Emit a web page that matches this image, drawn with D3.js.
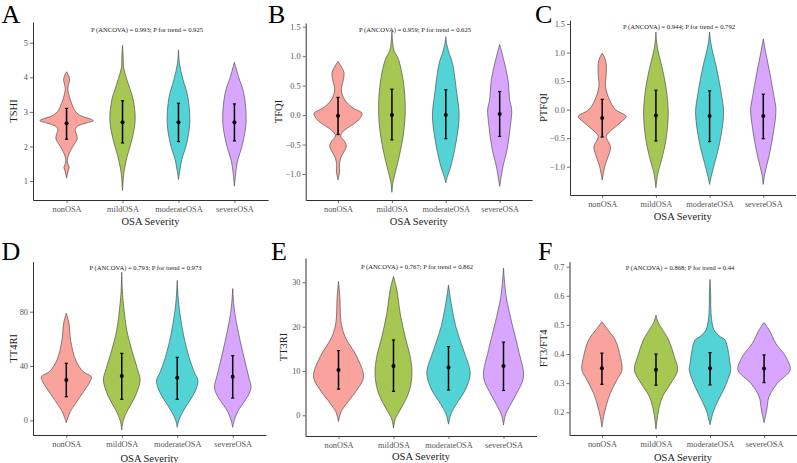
<!DOCTYPE html>
<html>
<head>
<meta charset="utf-8">
<script src="https://cdn.jsdelivr.net/npm/d3@7"></script>
<style>
  html, body { margin: 0; padding: 0; background: #ffffff; }
  svg { display: block; }
</style>
</head>
<body>
<svg id="chart" width="797" height="463"></svg>
<script>
// ---------------- DATA ----------------
const categories = ["nonOSA", "mildOSA", "moderateOSA", "severeOSA"];
const panelLetters = ["A", "B", "C", "D", "E", "F"];
const yTitles = ["TSHI", "TFQI", "PTFQI", "TT4RI", "TT3RI", "FT3/FT4"];
const xTitle = "OSA Severity";
const annotations = [
  "P (ANCOVA) = 0.993; P for trend = 0.925",
  "P (ANCOVA) = 0.959; P for trend = 0.625",
  "P (ANCOVA) = 0.944; P for trend = 0.792",
  "P (ANCOVA) = 0.793; P for trend = 0.973",
  "P (ANCOVA) = 0.767; P for trend = 0.862",
  "P (ANCOVA) = 0.868; P for trend = 0.44"
];
const yTickValues = [
  [1, 2, 3, 4, 5],
  [-1, -0.5, 0, 0.5, 1, 1.5],
  [-1, -0.5, 0, 0.5, 1, 1.5],
  [0, 40, 80],
  [0, 10, 20, 30],
  [0.2, 0.3, 0.4, 0.5, 0.6, 0.7]
];
const yTickFormats = ["d", ".1f", ".1f", "d", "d", ".1f"];

// mean and mean ± SD per group
const tshiMean = [2.67, 2.70, 2.70, 2.70];
const tshiLow  = [2.21, 2.10, 2.14, 2.16];
const tshiHigh = [3.10, 3.32, 3.25, 3.23];
const tfqiMean = [-0.01, 0.00, 0.00, 0.02];
const tfqiLow  = [-0.33, -0.42, -0.40, -0.36];
const tfqiHigh = [0.30, 0.44, 0.43, 0.40];
const ptfqiMean = [-0.145, -0.105, -0.11, -0.11];
const ptfqiLow  = [-0.48, -0.55, -0.56, -0.51];
const ptfqiHigh = [0.18, 0.34, 0.33, 0.27];
const tt4riMean = [29.7, 32.6, 31.4, 32.1];
const tt4riLow  = [17.4, 15.5, 15.5, 16.4];
const tt4riHigh = [42.0, 49.3, 46.4, 47.6];
const tt3riMean = [10.2, 11.1, 10.8, 11.1];
const tt3riLow  = [5.9, 5.4, 5.7, 5.6];
const tt3riHigh = [14.6, 17.0, 15.5, 16.5];
const ft3ft4Mean = [0.351, 0.346, 0.351, 0.350];
const ft3ft4Low  = [0.296, 0.293, 0.294, 0.302];
const ft3ft4High = [0.403, 0.400, 0.405, 0.397];

// violin density profiles: [value, density (arbitrary units)] per group
const tshiDensity = [
  [[4.16,0],[4.05,6],[3.92,9],[3.8,6],[3.65,4],[3.45,8],[3.25,15],[3.05,24],[2.9,40],[2.78,75],[2.74,80],[2.68,60],[2.58,32],[2.48,26],[2.35,30],[2.22,32],[2.08,24],[1.92,14],[1.78,7],[1.65,3],[1.52,3],[1.4,8],[1.3,5],[1.18,2],[1.08,0]],
  [[4.93,0],[4.6,2],[4.3,3],[3.97,12],[3.73,20],[3.35,32],[2.77,38],[2.19,28],[1.71,14],[1.23,4],[0.95,1.5],[0.72,0]],
  [[4.79,0],[4.4,3],[3.92,14],[3.44,28],[2.72,34],[2.1,25],[1.62,10],[1.3,4],[1.04,0]],
  [[4.44,0],[4.02,12],[3.54,28],[2.72,35],[2.1,25],[1.52,8],[1.14,3],[0.85,0]]
];
const tfqiDensity = [
  [[0.91,0],[0.8,12],[0.72,18],[0.6,16],[0.43,10],[0.26,20],[0.12,45],[0.03,72],[-0.06,65],[-0.14,50],[-0.22,28],[-0.3,12],[-0.36,8],[-0.45,20],[-0.53,25],[-0.62,18],[-0.7,10],[-0.8,5],[-0.87,4],[-0.95,5],[-1.02,3],[-1.1,0]],
  [[1.42,0],[1.25,2],[1.1,6],[0.94,20],[0.54,35],[0.09,40],[-0.3,35],[-0.7,22],[-0.98,10],[-1.15,3],[-1.31,0]],
  [[1.33,0],[1.2,3],[1.05,10],[0.88,20],[0.37,33],[0,40],[-0.42,32],[-0.87,15],[-1.04,5],[-1.15,0]],
  [[1.2,0],[0.94,12],[0.6,25],[0.26,30],[0.09,36],[-0.19,32],[-0.59,22],[-0.87,10],[-1.1,3],[-1.21,0]]
];
const ptfqiDensity = [
  [[0.99,0],[0.9,8],[0.8,12],[0.63,12],[0.4,10],[0.17,22],[0.0,40],[-0.12,72],[-0.2,60],[-0.3,40],[-0.4,20],[-0.47,12],[-0.56,18],[-0.65,25],[-0.75,22],[-0.82,18],[-0.99,8],[-1.1,4],[-1.23,0]],
  [[1.36,0],[1.2,2],[1.04,6],[0.75,18],[0.4,30],[-0.06,37],[-0.53,30],[-0.88,17],[-1.11,6],[-1.37,0]],
  [[1.36,0],[1.2,3],[1.04,8],[0.75,20],[0.28,35],[-0.06,42],[-0.59,30],[-0.94,15],[-1.17,5],[-1.31,0]],
  [[1.24,0],[0.98,8],[0.63,20],[0.23,32],[0,38],[-0.41,30],[-0.82,17],[-1.11,5],[-1.31,0]]
];
const tt4riDensity = [
  [[78.8,0],[71.4,8],[59,13],[44.4,28],[36,50],[32,75],[28,70],[22.3,55],[12.5,28],[6.4,12],[2,5],[-1.7,0]],
  [[109,0],[95,2],[86,5],[66.5,15],[51.8,30],[37,48],[29.7,55],[17.4,40],[7.6,18],[0.2,5],[-7.1,0]],
  [[103,0],[90,3],[78.8,8],[61.6,20],[46.9,35],[35,52],[29.7,62],[24,58],[17.4,45],[7.6,20],[0.2,5],[-5.2,0]],
  [[97,0],[86,3],[76.3,8],[59,22],[42,38],[30,50],[24.8,55],[20,50],[15,38],[6.4,15],[0.2,5],[-5.2,0]]
];
const tt3riDensity = [
  [[30.2,0],[26.8,4],[20.8,8],[17.7,20],[13.2,55],[8.7,75],[5.7,55],[2.7,25],[0.8,8],[-1.4,0]],
  [[31.3,0],[28.3,10],[23,20],[17.7,35],[12.5,52],[8.7,55],[5,45],[1.2,20],[-0.7,6],[-2.9,0]],
  [[29.4,0],[25.3,8],[20,22],[14.7,45],[9.5,65],[5.7,50],[2.7,25],[0.4,8],[-2,0]],
  [[33.2,0],[26.8,8],[20.8,25],[14.7,45],[8.7,60],[5,40],[2,18],[0.1,6],[-2.2,0]]
];
const ft3ft4Density = [
  [[0.511,0],[0.483,18],[0.448,40],[0.391,55],[0.345,60],[0.311,45],[0.265,25],[0.219,12],[0.185,5],[0.149,0]],
  [[0.534,0],[0.51,6],[0.494,14],[0.448,38],[0.391,55],[0.345,65],[0.3,45],[0.254,20],[0.208,8],[0.142,0]],
  [[0.656,0],[0.6,2],[0.54,3],[0.483,12],[0.46,30],[0.448,45],[0.368,60],[0.345,62],[0.288,45],[0.242,25],[0.202,10],[0.157,0]],
  [[0.508,0],[0.483,15],[0.437,35],[0.391,65],[0.345,78],[0.3,40],[0.254,15],[0.208,8],[0.165,0]]
];

// ---------------- LAYOUT / STYLE ----------------
const FONT = '"Liberation Serif", "Times New Roman", Times, "DejaVu Serif", "Noto Serif", serif';
const fills = ["#F8766D", "#7CAE00", "#00BFC4", "#C77CFF"];
const layout = [
  {left: 33,    right: 268,   top: 22,    bottom: 200, yDomain: [0.45, 5.6],     letter: [1.5, 22.7], ann: [147, 31.5], titleY: 224.5, ytX: 13},
  {left: 305.7, right: 532,   top: 23,    bottom: 200, yDomain: [-1.441, 1.563], letter: [268, 22.7], ann: [415, 31.5], titleY: 224.5, ytX: 278},
  {left: 570,   right: 795.5, top: 20,    bottom: 195, yDomain: [-1.496, 1.57],  letter: [535, 22.7], ann: [679, 28.5], titleY: 219.5, ytX: 543},
  {left: 33,    right: 266,   top: 261.7, bottom: 435, yDomain: [-10.8, 116.8],  letter: [1.5, 260],  ann: [145.5, 269.5], titleY: 461.5, ytX: 13},
  {left: 305.5, right: 536.5, top: 258,   bottom: 436, yDomain: [-4.67, 35.48],  letter: [271, 260],  ann: [417, 268.5], titleY: 460, ytX: 283},
  {left: 569.5, right: 796.5, top: 261.7, bottom: 435, yDomain: [0.122, 0.717],  letter: [538, 260],  ann: [680, 269.5], titleY: 460.5, ytX: 543}
];

const panelsData = [
  {mean: tshiMean,   low: tshiLow,   high: tshiHigh,   dens: tshiDensity},
  {mean: tfqiMean,   low: tfqiLow,   high: tfqiHigh,   dens: tfqiDensity},
  {mean: ptfqiMean,  low: ptfqiLow,  high: ptfqiHigh,  dens: ptfqiDensity},
  {mean: tt4riMean,  low: tt4riLow,  high: tt4riHigh,  dens: tt4riDensity},
  {mean: tt3riMean,  low: tt3riLow,  high: tt3riHigh,  dens: tt3riDensity},
  {mean: ft3ft4Mean, low: ft3ft4Low, high: ft3ft4High, dens: ft3ft4Density}
];

const svg = d3.select("#chart").attr("font-family", FONT);
const widthScale = d3.scaleLinear().domain([0, 80]).range([0, 26.7]);

panelsData.forEach((pd, i) => {
  const L = layout[i];
  const g = svg.append("g");
  const x = d3.scalePoint().domain(categories).range([L.left, L.right]).padding(0.6);
  const y = d3.scaleLinear().domain(L.yDomain).range([L.bottom, L.top]);

  // violins
  const area = d3.area().curve(d3.curveCatmullRom.alpha(0.5));
  categories.forEach((c, k) => {
    const cx = x(c);
    area.y(d => y(d[0]))
        .x0(d => cx - widthScale(d[1]))
        .x1(d => cx + widthScale(d[1]));
    g.append("path")
      .datum(pd.dens[k])
      .attr("d", area)
      .attr("fill", fills[k])
      .attr("fill-opacity", 0.68)
      .attr("stroke", "#3a3a3a")
      .attr("stroke-width", 0.6);
  });

  // error bars + mean points
  categories.forEach((c, k) => {
    const cx = x(c);
    g.append("line")
      .attr("x1", cx).attr("x2", cx)
      .attr("y1", y(pd.low[k])).attr("y2", y(pd.high[k]))
      .attr("stroke", "#000").attr("stroke-width", 1.5);
    [pd.low[k], pd.high[k]].forEach(v => {
      g.append("line")
        .attr("x1", cx - 1.6).attr("x2", cx + 1.6)
        .attr("y1", y(v)).attr("y2", y(v))
        .attr("stroke", "#000").attr("stroke-width", 1.2);
    });
    g.append("circle")
      .attr("cx", cx).attr("cy", y(pd.mean[k]))
      .attr("r", 2)
      .attr("fill", "#000");
  });

  // axes
  const yAxis = d3.axisLeft(y)
    .tickValues(yTickValues[i])
    .tickFormat(d3.format(yTickFormats[i]))
    .tickSizeInner(3).tickSizeOuter(0).tickPadding(2);
  const ya = g.append("g").attr("transform", `translate(${L.left},0)`).call(yAxis);
  const xAxis = d3.axisBottom(x).tickSizeInner(3).tickSizeOuter(0).tickPadding(3.5);
  const xa = g.append("g").attr("transform", `translate(0,${L.bottom})`).call(xAxis);
  [ya, xa].forEach(a => {
    a.attr("font-family", FONT).attr("font-size", 8.3);
    a.select(".domain").attr("stroke", "#1a1a1a").attr("stroke-width", 0.9);
    a.selectAll(".tick line").attr("stroke", "#333").attr("stroke-width", 0.7);
    a.selectAll(".tick text").attr("fill", "#555");
  });

  // axis titles
  g.append("text")
    .attr("x", (L.left + L.right) / 2).attr("y", L.titleY)
    .attr("text-anchor", "middle")
    .attr("font-size", 10.5).attr("fill", "#222")
    .text(xTitle);
  g.append("text")
    .attr("transform", `translate(${L.ytX},${(L.top + L.bottom) / 2}) rotate(-90)`)
    .attr("text-anchor", "middle").attr("dy", "0.35em")
    .attr("font-size", 10.5).attr("fill", "#222")
    .text(yTitles[i]);

  // annotation
  g.append("text")
    .attr("x", L.ann[0]).attr("y", L.ann[1])
    .attr("text-anchor", "middle")
    .attr("font-size", 6.6).attr("fill", "#222")
    .text(annotations[i]);

  // panel letter
  g.append("text")
    .attr("x", L.letter[0]).attr("y", L.letter[1])
    .attr("font-size", 26).attr("fill", "#000")
    .text(panelLetters[i]);
});
</script>
</body>
</html>
